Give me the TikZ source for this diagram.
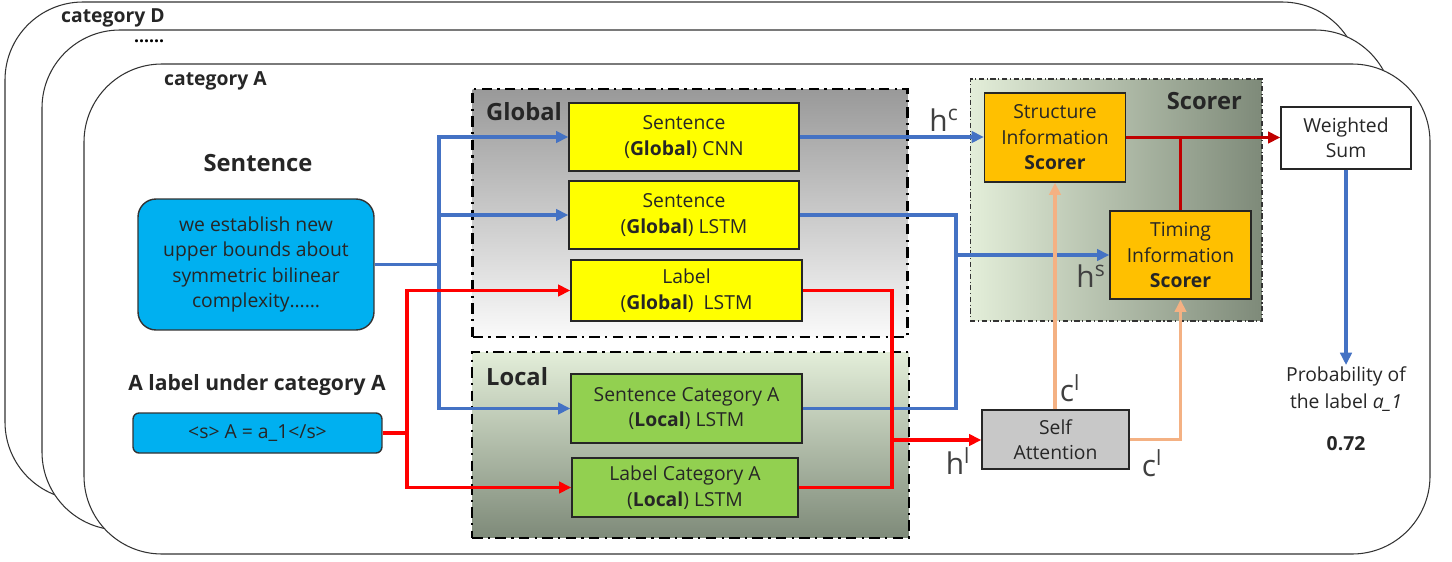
\documentclass[tikz,border=0pt]{standalone}
\usepackage{fontspec}
\setmainfont{Open Sans}
\usetikzlibrary{arrows.meta}
\definecolor{skyblue}{HTML}{00B0F0}
\definecolor{boxyellow}{HTML}{FFFF00}
\definecolor{boxgreen}{HTML}{92D050}
\definecolor{boxorange}{HTML}{FFC000}
\definecolor{boxgray}{HTML}{C8C8C8}
\definecolor{lineblue}{HTML}{4472C4}
\definecolor{linered}{HTML}{FF0000}
\definecolor{linedarkred}{HTML}{C00000}
\definecolor{linepeach}{HTML}{F4B183}
\definecolor{palegreen}{HTML}{E3EED9}
\definecolor{darkgreen}{HTML}{7E8A79}
\begin{document}
\begin{tikzpicture}[x=0.02cm,y=-0.02cm,
    catframe/.style={draw=black!80,line width=0.6pt,fill=white,rounded corners=1.56cm},
    groupbox/.style={draw=black,line width=1.3pt,dash pattern=on 6pt off 3pt on 1.3pt off 3pt},
    txt/.style={font=\fontsize{11}{14.5}\selectfont,text=black!85,align=center},
    block/.style={txt,draw=black!85,line width=0.8pt,inner sep=0pt},
    ybox/.style={block,fill=boxyellow},
    gbox/.style={block,fill=boxgreen},
    obox/.style={block,fill=boxorange},
    head/.style={font=\fontsize{13.5}{16}\selectfont\bfseries,text=black!85},
    sup/.style={font=\fontsize{17}{19}\selectfont,text=black!75},
    tip/.style={-{Triangle[length=7pt,width=6.5pt]}},
    bline/.style={draw=lineblue,line width=2pt},
    rline/.style={draw=linered,line width=2pt},
    drline/.style={draw=linedarkred,line width=2pt},
    pline/.style={draw=linepeach,line width=2pt}]
  \useasboundingbox (0,0) rectangle (1452,561);

  % category frames
  \draw[catframe] (5,2) rectangle (1360,500);
  \draw[catframe] (42,30) rectangle (1393,530);
  \draw[catframe] (84,64) rectangle (1430,554);
  \draw
    (55,18) node[txt,anchor=west,font=\fontsize{11}{13}\selectfont\bfseries] (catD) {category D}
    (128,41) node[anchor=west,font=\bfseries] (catdots) {......}
    (158,81) node[txt,anchor=west,font=\fontsize{11}{13}\selectfont\bfseries] (catA) {category A};

  % groups
  \draw
    (690,213) node[groupbox,top color=black!40,bottom color=black!2,
      minimum width=8.7cm,minimum height=4.96cm] (global) {}
    (690.5,445) node[groupbox,top color=palegreen,bottom color=darkgreen,
      minimum width=8.74cm,minimum height=3.72cm] (local) {}
    (1116,200) node[draw=black!80,line width=0.6pt,dash pattern=on 3pt off 1.5pt on 0.6pt off 1.5pt,
      left color=palegreen,right color=darkgreen,
      minimum width=5.84cm,minimum height=4.84cm] (scorer) {}
    (480,112) node[head,anchor=west] (globaltxt) {Global}
    (480,377) node[head,anchor=west] (localtxt) {Local}
    (1248,101) node[head,anchor=east] (scorertxt) {Scorer};

  % inputs
  \draw
    (258,163) node[head] (senthead) {Sentence}
    (256,264.5) node[txt,fill=skyblue,draw=black!80,line width=0.8pt,rounded corners=0.36cm,
      minimum width=4.72cm,minimum height=2.62cm] (sent)
      {we establish new\\upper bounds about\\symmetric bilinear\\complexity……}
    (257,385) node[head,font=\fontsize{12}{14}\selectfont\bfseries] (labhead) {A label under category A}
    (257.5,433) node[txt,fill=skyblue,draw=black!80,line width=0.8pt,rounded corners=0.12cm,
      minimum width=4.98cm,minimum height=0.8cm] (lab) {<s> A = a\_1</s>};

  % encoders
  \draw
    (684,137) node[ybox,minimum width=4.6cm,minimum height=1.36cm] (gcnn)
      {Sentence\\(\textbf{Global}) CNN}
    (684,215) node[ybox,minimum width=4.6cm,minimum height=1.36cm] (glstm)
      {Sentence\\(\textbf{Global}) LSTM}
    (686.5,290.5) node[ybox,minimum width=4.62cm,minimum height=1.22cm] (glabel)
      {Label\\(\textbf{Global})\ \ LSTM}
    (686.5,408.5) node[gbox,minimum width=4.62cm,minimum height=1.38cm] (lsent)
      {Sentence Category A\\(\textbf{Local}) LSTM}
    (685,487.5) node[gbox,minimum width=4.52cm,minimum height=1.18cm] (llabel)
      {Label Category A\\(\textbf{Local})\ LSTM};

  % scorers and output
  \draw
    (1055,137.5) node[obox,minimum width=2.82cm,minimum height=1.78cm] (struct)
      {Structure\\Information\\\textbf{Scorer}}
    (1180.5,255) node[obox,minimum width=2.82cm,minimum height=1.76cm] (timing)
      {Timing\\Information\\\textbf{Scorer}}
    (1346,138) node[block,fill=white,minimum width=2.6cm,minimum height=1.24cm] (wsum)
      {Weighted\\Sum}
    (1055.5,439.5) node[block,fill=boxgray,minimum width=2.94cm,minimum height=1.18cm] (selfatt)
      {Self\\Attention}
    (1346,365) node[txt,anchor=north,inner sep=1pt,font=\fontsize{11}{15.3}\selectfont] (prob)
      {Probability of\\the label \textit{a\_1}}
    (1346,444) node[txt,font=\fontsize{11}{13}\selectfont\bfseries] (score) {0.72};

  \coordinate (bsplit) at (439,264.5);
  \coordinate (bjoin) at (956,255);
  \coordinate (rsplit) at (407,433);
  \coordinate (rjoin) at (892,440);

  \begin{scope}
    \draw[bline] (sent.east) -- (bsplit);
    \draw[bline,tip] (bsplit) |- (gcnn.west);
    \draw[bline,tip] (bsplit) |- (glstm.west);
    \draw[bline,tip] (bsplit) |- (lsent.west);
    \draw[bline,tip] (gcnn.east) -- (gcnn.east -| struct.west);
    \draw[bline] (lsent.east) -| (bjoin);
    \draw[bline,tip] (glstm.east) -| (bjoin) -- (timing.west);
    \draw[bline,tip] (wsum.south) -- (prob.north);
  \end{scope}
  \begin{scope}
    \draw[rline] (lab.east) -- (rsplit);
    \draw[rline,tip] (rsplit) |- (glabel.west);
    \draw[rline,tip] (rsplit) |- (llabel.west);
    \draw[rline] (glabel.east) -| (rjoin);
    \draw[rline] (llabel.east) -| (rjoin);
    \draw[rline,tip] (rjoin) -- (rjoin -| selfatt.west);
  \end{scope}
  \begin{scope}
    \draw[drline] (timing.north) -- (timing.north |- struct.east);
    \draw[drline,tip] (struct.east) -- (struct.east -| wsum.west);
  \end{scope}
  \begin{scope}
    \draw[pline,tip] (struct.south |- selfatt.north) -- (struct.south);
    \draw[pline,tip] (selfatt.east) -| (timing.south);
  \end{scope}

  \draw
    (944,120) node[sup] (hc) {h\textsuperscript{c}}
    (1091,276) node[sup] (hs) {h\textsuperscript{s}}
    (958,461) node[sup] (hl) {h\textsuperscript{l}}
    (1070,388) node[sup] (cl1) {c\textsuperscript{l}}
    (1152,463) node[sup] (cl2) {c\textsuperscript{l}};
\end{tikzpicture}
\end{document}
